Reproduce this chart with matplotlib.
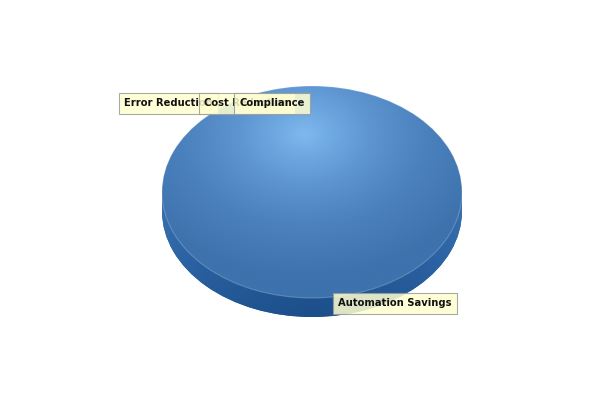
import numpy as np
import matplotlib
matplotlib.use("Agg")
import matplotlib.pyplot as plt
from matplotlib.colors import LinearSegmentedColormap
from matplotlib.patches import Rectangle

# ---- data ----
categories = ["Automation Savings", "Error Reduction", "Cost Reduction", "Compliance"]
values = [100, 0, 0, 0]

W, H = 600, 400
fig = plt.figure(figsize=(6, 4), dpi=100)
fig.patch.set_facecolor("white")

# pie axes placed in pixel geometry (ellipse 300 x 212 px, depth 19 px)
left_px, right_px, top_px, bottom_px = 162, 462, 86, 317
depth = 19 / 106.0
ax = fig.add_axes([left_px / W, 1 - bottom_px / H, (right_px - left_px) / W,
                   (bottom_px - top_px) / H])

# side (bottom) of the 3D pie
side_w, _ = ax.pie(values, radius=1, center=(0, -depth), startangle=90,
                   counterclock=False, colors=["#2a61a0"] * len(values),
                   wedgeprops=dict(linewidth=0))
band = Rectangle((-1, -depth), 2, depth, facecolor="#2a61a0", linewidth=0)
ax.add_patch(band)

# top
top_w, _ = ax.pie(values, radius=1, center=(0, 0), startangle=90,
                  counterclock=False, colors=["#5b93cf"] * len(values),
                  wedgeprops=dict(linewidth=0))
ax.set_aspect("auto")
ax.set_xlim(-1, 1)
ax.set_ylim(-1 - depth, 1)
ax.axis("off")

# gradients
n = 400
xs = np.linspace(-1, 1, n)
ys = np.linspace(-1 - depth, 1, n)
X, Y = np.meshgrid(xs, ys)

# top radial gradient with highlight at upper-middle
hx, hy = -0.05, 0.55
R = np.sqrt(((X - hx) / 1.25) ** 2 + ((Y - hy) / 1.35) ** 2)
R = np.clip(R, 0, 1)
top_cmap = LinearSegmentedColormap.from_list(
    "top", ["#7db8ee", "#5f97d2", "#4a80bb", "#3d72ad"])
for w in top_w:
    im = ax.imshow(R, extent=(-1, 1, -1 - depth, 1), origin="lower",
                   cmap=top_cmap, vmin=0, vmax=1, aspect="auto", zorder=3)
    im.set_clip_path(w)
    w.set_zorder(2)

# side gradient: darker toward the bottom-middle
S = np.clip(0.55 * (1 - np.abs(X)) ** 0.6 + 0.45 * np.clip((-Y) / (1 + depth), 0, 1), 0, 1)
side_cmap = LinearSegmentedColormap.from_list("side", ["#3a72b0", "#2a60a0", "#1c4f8a"])
for p in list(side_w) + [band]:
    im = ax.imshow(S, extent=(-1, 1, -1 - depth, 1), origin="lower",
                   cmap=side_cmap, vmin=0, vmax=1, aspect="auto", zorder=1)
    im.set_clip_path(p)
    p.set_zorder(0.5)

# light rim on the top ellipse (only for non-empty slices)
for w, v in zip(top_w, values):
    w.set_facecolor("none")
    w.set_zorder(4)
    if v > 0:
        w.set_edgecolor((1, 1, 1, 0.22))
        w.set_linewidth(0.8)
    else:
        w.set_linewidth(0)

# labels
label_pos = {
    "Error Reduction": (124, 103),
    "Cost Reduction": (204, 103),
    "Compliance": (239, 103),
    "Automation Savings": (338, 303),
}
order = ["Error Reduction", "Cost Reduction", "Compliance", "Automation Savings"]
for z, name in enumerate(order):
    if name not in categories:
        continue
    px, py = label_pos[name]
    fig.text(px / W, 1 - py / H, name, ha="left", va="center",
             fontsize=7.2, fontweight="bold", color="#111111",
             family="DejaVu Sans", zorder=10 + z,
             bbox=dict(boxstyle="square,pad=0.55", facecolor="#ffffd0",
                       edgecolor="#9a9a9a", linewidth=0.8, alpha=0.85))

fig.savefig("out.png", dpi=100)
